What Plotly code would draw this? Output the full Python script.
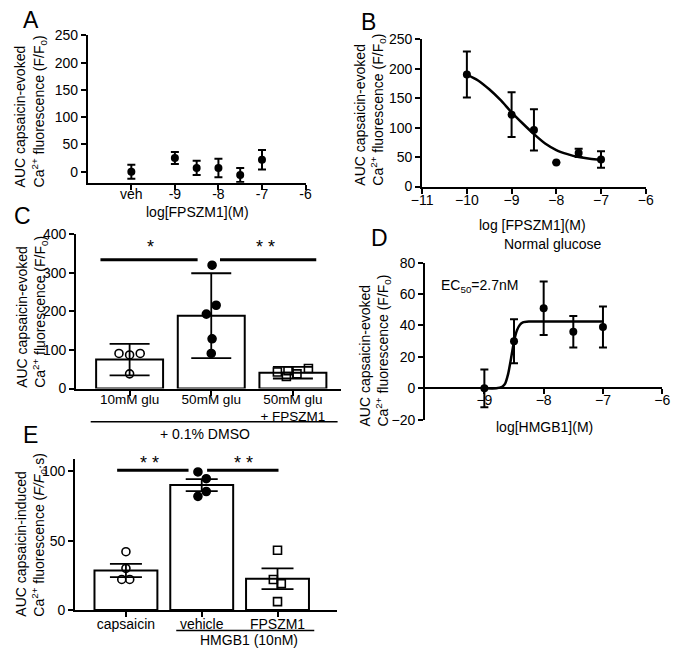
import plotly.graph_objects as go

W, H = 679, 657
FONT = "Liberation Sans, Arial, sans-serif"

# ---------------- data ----------------
# Panel A
A_x = [-10, -9, -8.5, -8, -7.5, -7]
A_y = [0, 25, 7, 7, -6, 22]
A_err = [13, 11, 13, 17, 13, 18]
A_tickvals = [-10, -9, -8, -7, -6]
A_ticktext = ["veh", "-9", "-8", "-7", "-6"]

# Panel B
B_x = [-10, -9, -8.5, -8, -7.5, -7]
B_y = [190, 122, 96, 41, 57, 46]
B_err = [39, 38, 35, 0, 7, 14]
B_fit_x = [-10, -9.75, -9.5, -9.25, -9, -8.75, -8.5, -8.25, -8, -7.75, -7.5, -7.25, -7]
B_fit_y = [190, 180, 165, 147, 126, 107, 89, 73, 62, 55, 50, 47, 45]

# Panel C
C_cats = ["10mM glu", "50mM glu", "50mM glu<br>+ FPSZM1"]
C_mean = [75, 189, 41]
C_err = [41, 110, 15]
C_pts = [[91, 87, 91, 38],
         [320, 216, 193, 129, 91],
         [43, 31, 46, 38, 52]]
C_jit = [[-0.13, 0, 0.13, 0],
         [0.01, 0.06, -0.06, 0.01, 0],
         [-0.19, -0.08, -0.06, 0.05, 0.19]]

# Panel D
D_x = [-9, -8.5, -8, -7.5, -7]
D_y = [0, 30, 51, 36, 39]
D_err = [12, 14, 17, 10, 13]
D_fit_x = [-9, -8.8, -8.7, -8.65, -8.6, -8.55, -8.5, -8.45, -8.4, -8.35, -8.25, -8, -7.5, -7]
D_fit_y = [0, 0, 1, 3, 9, 19, 30, 37, 40.5, 42, 42.5, 42.5, 42.5, 42.5]

# Panel E
E_cats = ["capsaicin", "vehicle", "FPSZM1"]
E_mean = [28.5, 90, 22.5]
E_err = [4.8, 4.3, 7.5]
E_pts = [[42, 30, 22, 22],
         [99.5, 94.6, 85.4, 81.9],
         [43, 22, 19, 6]]
E_jit = [[0, 0, -0.055, 0.05],
         [-0.05, 0.06, 0.06, -0.05],
         [0, -0.055, 0.05, 0]]


def px(p):
    return p / W


def py(p):
    return 1 - p / H


fig = go.Figure()

blk = "black"
eb_pt = dict(type="data", color=blk, thickness=2, width=4, visible=True)

# A
fig.add_trace(go.Scatter(x=A_x, y=A_y, mode="markers",
                         marker=dict(color=blk, size=8),
                         error_y=dict(array=A_err, **eb_pt),
                         xaxis="x", yaxis="y"))
# B
fig.add_trace(go.Scatter(x=B_fit_x, y=B_fit_y, mode="lines",
                         line=dict(color=blk, width=2.5, shape="spline", smoothing=0.8),
                         xaxis="x2", yaxis="y2"))
fig.add_trace(go.Scatter(x=B_x, y=B_y, mode="markers",
                         marker=dict(color=blk, size=8),
                         error_y=dict(array=B_err, **eb_pt),
                         xaxis="x2", yaxis="y2"))
# C
C_idx = list(range(len(C_cats)))
fig.add_trace(go.Bar(x=C_idx, y=C_mean, width=0.82,
                     marker=dict(color="white", line=dict(color=blk, width=2)),
                     error_y=dict(type="data", array=C_err, color=blk, thickness=1.8, width=20),
                     xaxis="x3", yaxis="y3"))
C_symbols = ["circle-open", "circle", "square-open"]
for i, (vals, jit) in enumerate(zip(C_pts, C_jit)):
    fig.add_trace(go.Scatter(x=[i + j for j in jit], y=vals, mode="markers",
                             marker=dict(symbol=C_symbols[i], size=8, color=blk,
                                         line=dict(color=blk, width=1.6)),
                             xaxis="x3", yaxis="y3"))
# D
fig.add_trace(go.Scatter(x=D_fit_x, y=D_fit_y, mode="lines",
                         line=dict(color=blk, width=2.5, shape="spline", smoothing=0.6),
                         xaxis="x4", yaxis="y4"))
fig.add_trace(go.Scatter(x=D_x, y=D_y, mode="markers",
                         marker=dict(color=blk, size=8),
                         error_y=dict(array=D_err, **eb_pt),
                         xaxis="x4", yaxis="y4"))
# E
E_idx = list(range(len(E_cats)))
fig.add_trace(go.Bar(x=E_idx, y=E_mean, width=0.83,
                     marker=dict(color="white", line=dict(color=blk, width=2)),
                     error_y=dict(type="data", array=E_err, color=blk, thickness=1.8, width=16),
                     xaxis="x5", yaxis="y5"))
E_symbols = ["circle-open", "circle", "square-open"]
for i, (vals, jit) in enumerate(zip(E_pts, E_jit)):
    fig.add_trace(go.Scatter(x=[i + j for j in jit], y=vals, mode="markers",
                             marker=dict(symbol=E_symbols[i], size=8, color=blk,
                                         line=dict(color=blk, width=1.6)),
                             xaxis="x5", yaxis="y5"))

tickfont = dict(family=FONT, size=14, color=blk)
ax_common = dict(showline=True, linecolor=blk, linewidth=2, ticks="outside",
                 ticklen=5, tickwidth=2, tickcolor=blk, showgrid=False,
                 zeroline=False, tickfont=tickfont, fixedrange=True)
xa_common = dict(ax_common, ticklabelstandoff=-5)

layout = dict(
    width=W, height=H, margin=dict(l=0, r=0, t=0, b=0),
    paper_bgcolor="white", plot_bgcolor="white", showlegend=False,
    font=dict(family=FONT, size=14, color=blk),
    xaxis=dict(domain=[px(79), px(303)], range=[-11, -6], tickvals=A_tickvals,
               ticktext=A_ticktext, anchor="y", **dict(xa_common, ticklabelstandoff=-7)),
    yaxis=dict(domain=[py(179), py(28)], range=[-20, 250], tickvals=[0, 50, 100, 150, 200, 250],
               anchor="x", **ax_common),
    xaxis2=dict(domain=[px(423), px(653)], range=[-11, -6], tickvals=[-11, -10, -9, -8, -7, -6],
                anchor="y2", **xa_common),
    yaxis2=dict(domain=[py(183), py(32)], range=[0, 250], tickvals=[0, 50, 100, 150, 200, 250],
                anchor="x2", **ax_common),
    xaxis3=dict(domain=[px(67), px(340)], range=[-0.655, 2.595], tickvals=C_idx,
                ticktext=C_cats, anchor="y3",
                **dict(xa_common, ticklabelstandoff=-8, tickfont=dict(tickfont, size=13.5))),
    yaxis3=dict(domain=[py(390), py(232)], range=[0, 400], tickvals=[0, 100, 200, 300, 400],
                anchor="x3", **ax_common),
    xaxis4=dict(domain=[px(426), px(670)], range=[-10, -6], tickvals=[-9, -8, -7, -6],
                anchor="free", position=py(389), **xa_common),
    yaxis4=dict(domain=[py(422), py(261)], range=[-20, 80], tickvals=[-20, 0, 20, 40, 60, 80],
                anchor="x4", **ax_common),
    xaxis5=dict(domain=[px(66), px(335)], range=[-0.67, 2.78], tickvals=E_idx,
                ticktext=E_cats, anchor="y5", **xa_common),
    yaxis5=dict(domain=[py(617), py(462)], range=[0, 109], tickvals=[0, 50, 100],
                anchor="x5", **ax_common),
)
fig.update_layout(**layout)

ann = []


def text_px(x, y, t, size=14, xanchor="center", yanchor="middle", angle=0, align="center"):
    ann.append(dict(xref="paper", yref="paper", x=px(x), y=py(y), text=t, showarrow=False,
                    font=dict(family=FONT, size=size, color=blk), xanchor=xanchor,
                    yanchor=yanchor, textangle=angle, align=align))


ytitle = "AUC capsaicin-evoked<br>Ca<sup>2+</sup> fluorescence (F/F<sub>0</sub>)"
text_px(20.5, 186, ytitle, yanchor="bottom", angle=-90, align="left")
text_px(368.5, 184, ytitle, yanchor="bottom", angle=-90, align="left")
text_px(22, 391, ytitle, yanchor="bottom", angle=-90, align="left")
text_px(373.5, 431, ytitle, yanchor="bottom", angle=-90, align="left")
text_px(20.5, 626, "AUC capsaicin-induced<br>Ca<sup>2+</sup> fluorescence (<i>F/F<sub>0</sub></i>·s)",
        yanchor="bottom", angle=-90, align="left")

# x titles
text_px(192, 209, "log[FPSZM1](M)")
text_px(537, 222, "log [FPSZM1](M)")
text_px(549, 429, "log[HMGB1](M)")
text_px(557, 242, "Normal glucose")
text_px(440, 285, "EC<sub>50</sub>=2.7nM", xanchor="left")
text_px(200, 437, "+ 0.1% DMSO")
text_px(245, 648, "HMGB1 (10nM)")

# panel letters
for lab, (lx, ly) in {"A": (21, 12), "B": (368, 14), "C": (12, 213), "D": (379, 236), "E": (20, 438)}.items():
    text_px(lx, ly, lab, size=23)

# significance stars (data coords)
for (xr, yr, x, y, t) in [("x3", "y3", 0.25, 367, "*"), ("x3", "y3", 1.667, 367, "* *"),
                          ("x5", "y5", 0.31, 105.6, "* *"), ("x5", "y5", 1.548, 105.6, "* *")]:
    ann.append(dict(xref=xr, yref=yr, x=x, y=y, text=t, showarrow=False,
                    font=dict(family=FONT, size=18, color=blk), xanchor="center", yanchor="middle"))

fig.update_layout(annotations=ann)

shapes = []
# significance lines
for (xr, yr, x0, x1, y) in [("x3", "y3", -0.357, 0.833, 334), ("x3", "y3", 1.107, 2.286, 334),
                            ("x5", "y5", -0.116, 0.826, 100.7), ("x5", "y5", 1.071, 2.013, 100.7)]:
    shapes.append(dict(type="line", xref=xr, yref=yr, x0=x0, x1=x1, y0=y, y1=y,
                       line=dict(color=blk, width=3)))
# group underlines
shapes.append(dict(type="line", xref="paper", yref="paper", x0=px(82), x1=px(336),
                   y0=py(424), y1=py(424), line=dict(color=blk, width=1.5)))
shapes.append(dict(type="line", xref="paper", yref="paper", x0=px(170), x1=px(312),
                   y0=py(638), y1=py(638), line=dict(color=blk, width=1.5)))
fig.update_layout(shapes=shapes)

fig.write_html("out.html", config={"displayModeBar": False},
               post_script="document.body.style.margin='0';document.body.style.overflow='hidden';")
